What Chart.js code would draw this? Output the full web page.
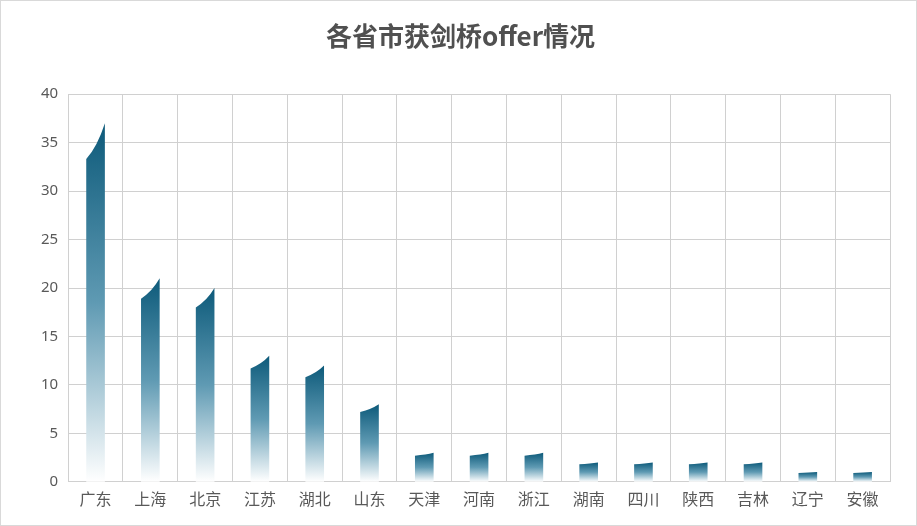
<!DOCTYPE html>
<html><head><meta charset="utf-8">
<script src="https://cdn.jsdelivr.net/npm/chart.js@4"></script>
<style>
html,body{margin:0;padding:0;background:#fff}
#wrap{position:absolute;left:0;top:0;width:915px;height:524px;border:1px solid #d9d9d9}
</style></head><body>
<div id="wrap"><canvas id="c"></canvas></div>
<script>
const categories = ["广东","上海","北京","江苏","湖北","山东","天津","河南","浙江","湖南","四川","陕西","吉林","辽宁","安徽"];
const offers = [37,21,20,13,12,8,3,3,3,2,2,2,2,1,1];
const yTicks = [0,5,10,15,20,25,30,35,40];

// draws each bar with a curved, slanted top and a fading gradient
const slantBars = {
  id: "slantBars",
  afterDatasetsDraw(chart){
    const ctx = chart.ctx, y = chart.scales.y;
    chart.getDatasetMeta(0).data.forEach((bar, i) => {
      const v = offers[i];
      const l = bar.x - bar.width/2, r = bar.x + bar.width/2;
      const base = y.getPixelForValue(0);
      const top = y.getPixelForValue(v);
      const lt = y.getPixelForValue(v*0.9);
      const g = ctx.createLinearGradient(0, top, 0, base);
      g.addColorStop(0, "#0d5a7a");
      g.addColorStop(0.5, "#5f9ab3");
      g.addColorStop(1, "#ffffff");
      ctx.save();
      ctx.fillStyle = g;
      ctx.beginPath();
      ctx.moveTo(l, base);
      ctx.lineTo(l, lt);
      ctx.quadraticCurveTo(l + (r-l)*0.6, lt - (lt-top)*0.35, r, top);
      ctx.lineTo(r, base);
      ctx.closePath();
      ctx.fill();
      ctx.restore();
    });
  }
};

new Chart(document.getElementById("c"), {
  type: "bar",
  data: { labels: categories, datasets: [{ data: offers, backgroundColor: "rgba(0,0,0,0)", barPercentage: 0.34, categoryPercentage: 1 }] },
  options: {
    responsive: true, maintainAspectRatio: false, animation: false,
    layout: { padding: { left: 30, right: 26, top: 12, bottom: 8 } },
    plugins: {
      legend: { display: false }, tooltip: { enabled: false },
      title: { display: true, text: "各省市获剑桥offer情况", color: "#505050",
        font: { family: "Noto Sans CJK SC", size: 26, weight: "bold" }, padding: { top: 8, bottom: 42 } }
    },
    scales: {
      x: { grid: { color: "#d0d0d0", offset: true, drawTicks: false }, border: { color: "#d0d0d0" },
        ticks: { color: "#595959", padding: 8, font: { family: "Noto Sans CJK SC", size: 16 } } },
      y: { min: 0, max: 40, afterBuildTicks: a => { a.ticks = yTicks.map(v => ({ value: v })); },
        grid: { color: "#d0d0d0", drawTicks: false }, border: { display: false },
        ticks: { color: "#595959", padding: 10, font: { family: "Noto Sans", size: 15 } } }
    }
  },
  plugins: [slantBars]
});
</script>
</body></html>
